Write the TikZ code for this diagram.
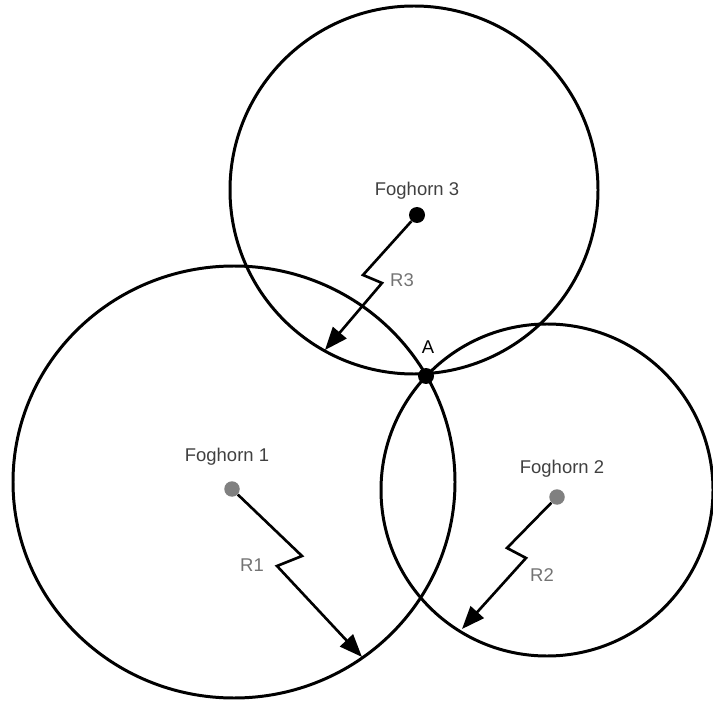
\documentclass[tikz,border=0pt]{standalone}
\usepackage{fontspec}
\setmainfont{Liberation Sans}
\usetikzlibrary{arrows.meta}
\begin{document}
\begin{tikzpicture}[x=0.02cm, y=-0.02cm, every node/.style={font=\fontsize{10.5}{12}\selectfont}]
  \tikzset{
    rim/.style={line width=1.7pt},
    horn/.style={circle, fill=black!50, inner sep=0pt, minimum size=0.31cm},
    fixdot/.style={circle, fill=black, inner sep=0pt, minimum size=0.32cm},
    hornlab/.style={text=black!75},
    rlab/.style={text=black!55},
    radius line/.style={line width=1.5pt, -{Triangle[length=13pt, width=10pt]}}
  }
  \useasboundingbox (0,0) rectangle (713,702);
  \draw[rim] (234,482) ellipse [x radius=221, y radius=216];
  \draw[rim] (547,490) circle [radius=166];
  \draw[rim] (414,190) circle [radius=184];
  \node[horn]   (f1) at (232,489) {};
  \node[horn]   (f2) at (557,497) {};
  \node[fixdot] (f3) at (417,215) {};
  \node[fixdot] (a)  at (426,376) {};
  \node[hornlab] (n1) at (227,457) {Foghorn 1};
  \node[hornlab] (n2) at (562,469) {Foghorn 2};
  \node[hornlab] (n3) at (417,191) {Foghorn 3};
  \node (la) at (428,347) {A};
  \coordinate (k1a) at (302,556);
  \coordinate (k1b) at (277,566);
  \coordinate (e1)  at (362,657);
  \coordinate (k2a) at (507,548);
  \coordinate (k2b) at (526,558);
  \coordinate (e2)  at (462,629);
  \coordinate (k3a) at (363,275);
  \coordinate (k3b) at (382,283);
  \coordinate (e3)  at (325,350);
  \draw[radius line] (f1) -- (k1a) -- (k1b) -- (e1);
  \draw[radius line] (f2) -- (k2a) -- (k2b) -- (e2);
  \draw[radius line] (f3) -- (k3a) -- (k3b) -- (e3);
  \node[rlab, anchor=east] (r1) at (270,565) {R1};
  \node[rlab] (r2) at (542,575) {R2};
  \node[rlab] (r3) at (402,280) {R3};
\end{tikzpicture}
\end{document}
